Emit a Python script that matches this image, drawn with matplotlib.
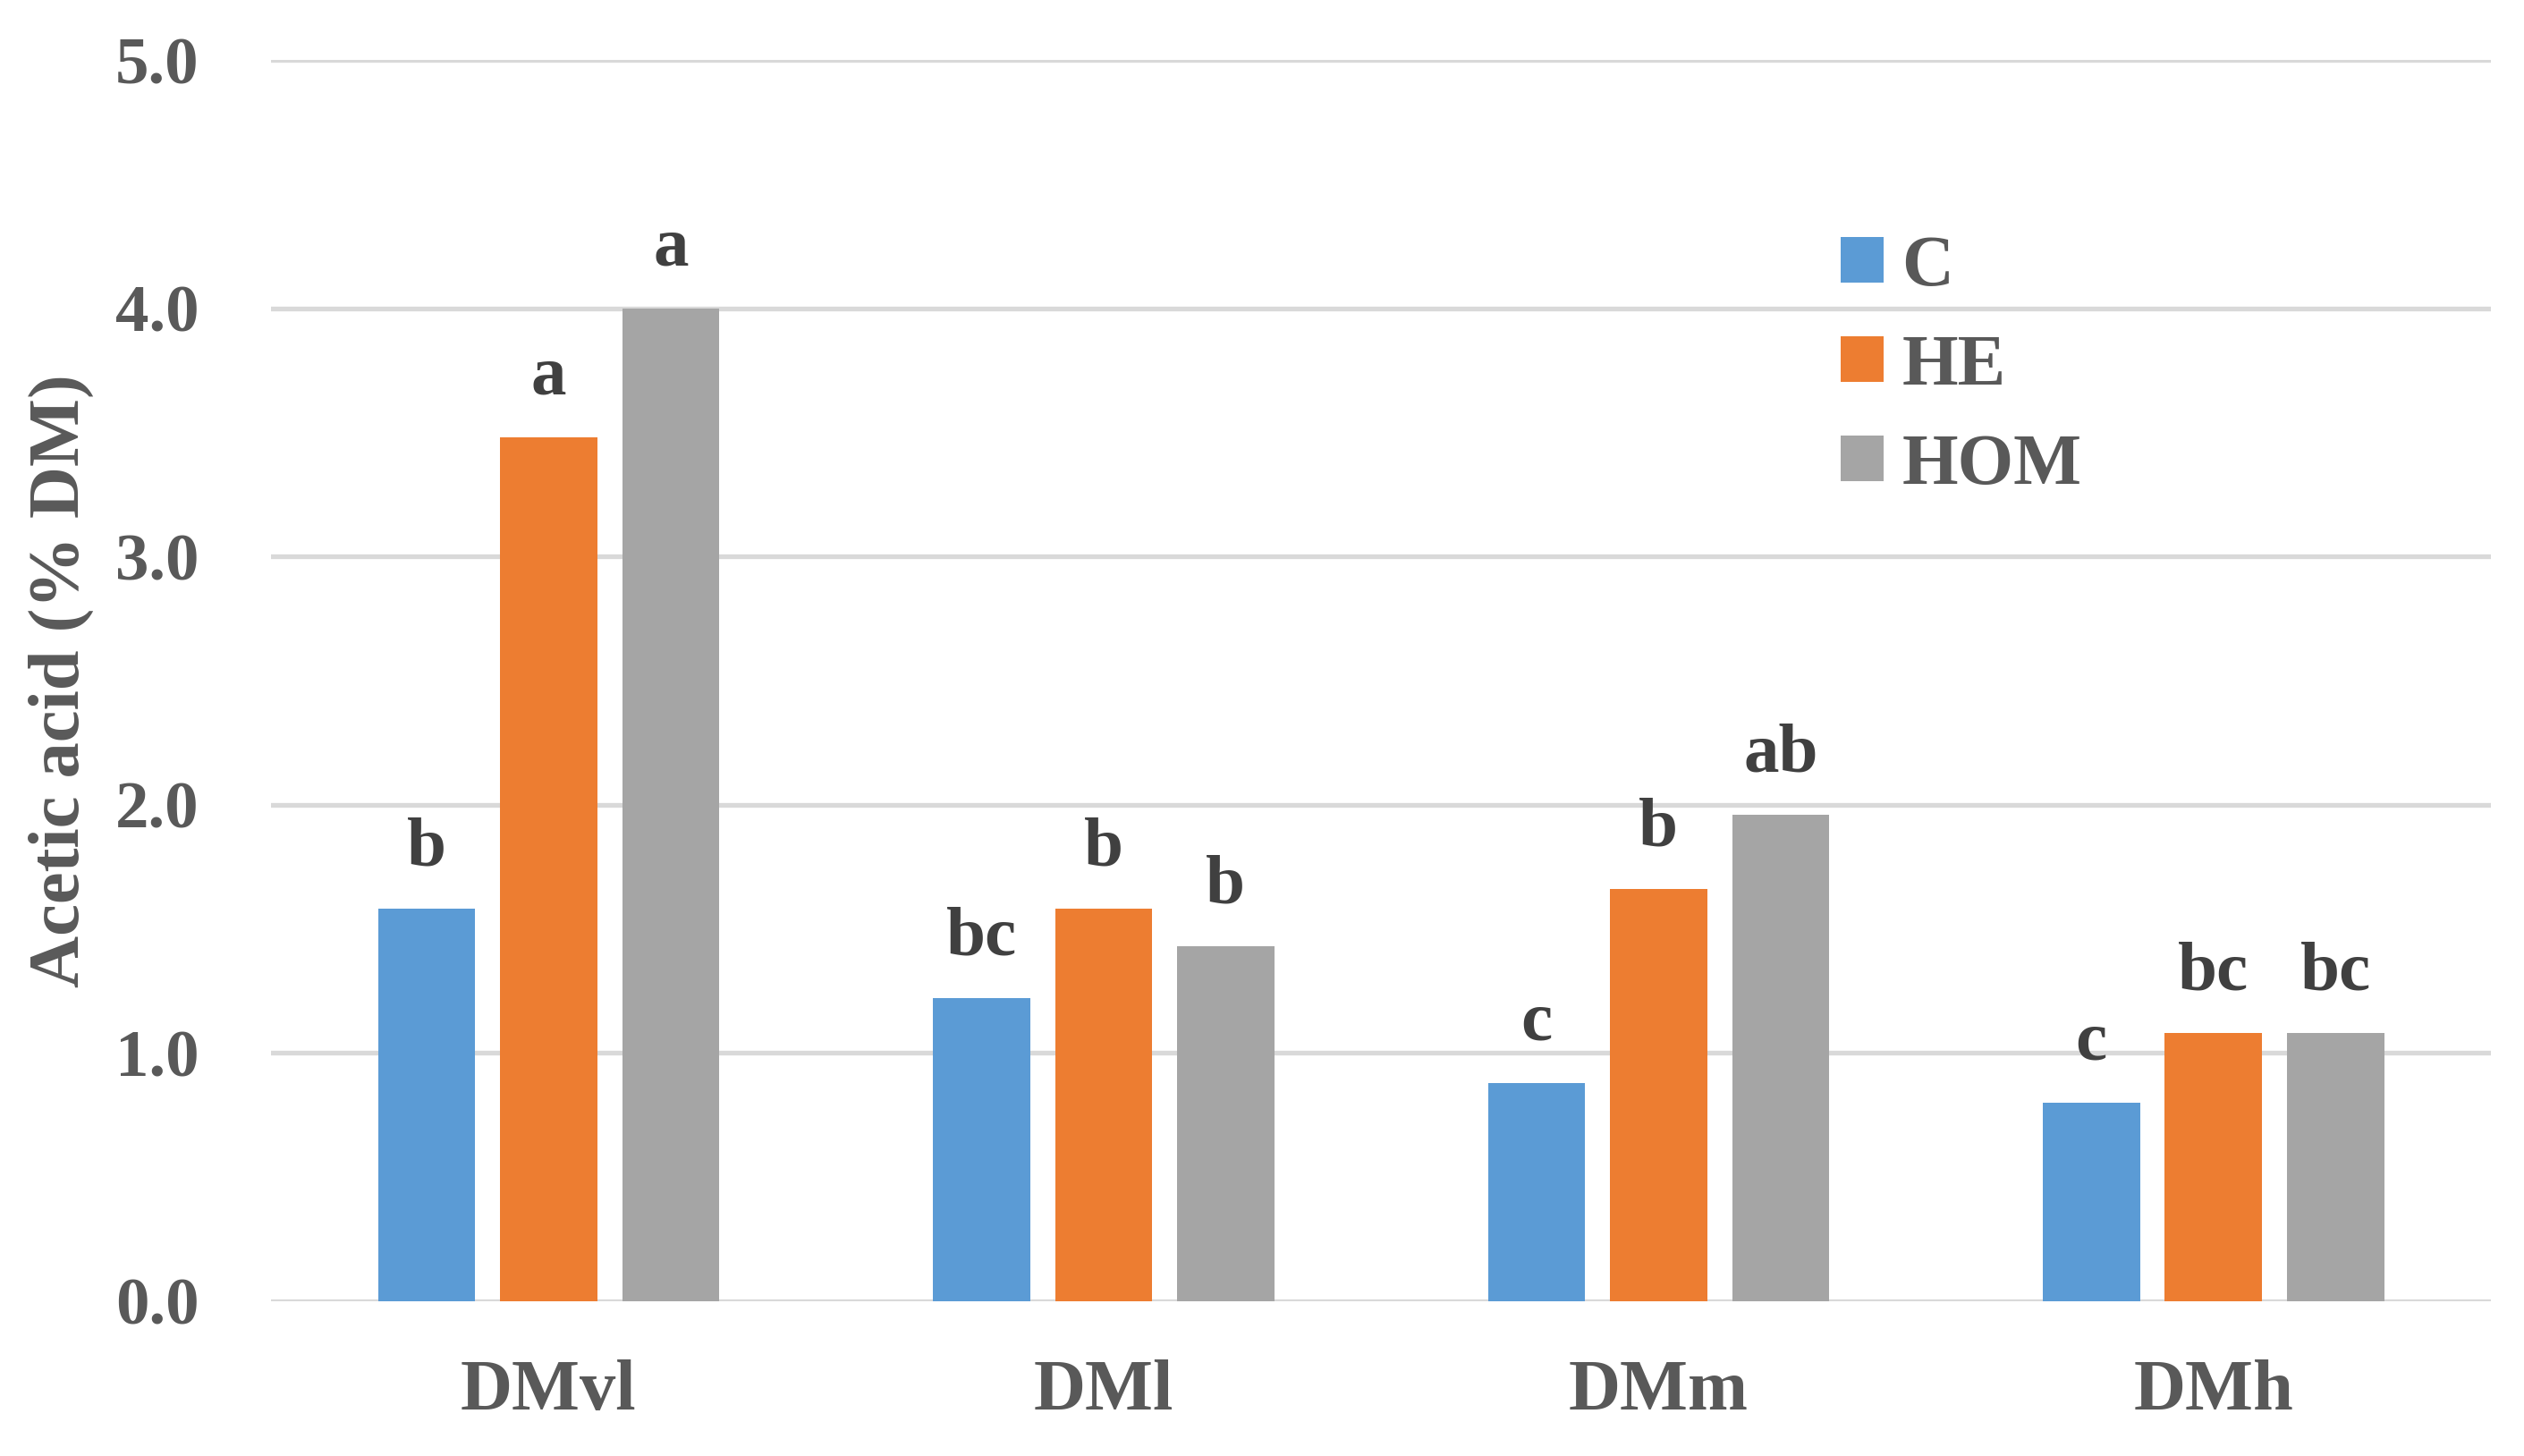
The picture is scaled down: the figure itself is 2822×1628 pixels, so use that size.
import matplotlib
matplotlib.use("Agg")
import matplotlib.pyplot as plt
from matplotlib.patches import Patch
import numpy as np

categories = ["DMvl", "DMl", "DMm", "DMh"]
series_names = ["C", "HE", "HOM"]
C_vals = [1.58, 1.22, 0.88, 0.80]
HE_vals = [3.48, 1.58, 1.66, 1.08]
HOM_vals = [4.00, 1.43, 1.96, 1.08]
C_letters = ["b", "bc", "c", "c"]
HE_letters = ["a", "b", "b", "bc"]
HOM_letters = ["a", "b", "ab", "bc"]
y_ticks = [0.0, 1.0, 2.0, 3.0, 4.0, 5.0]
y_label = "Acetic acid (% DM)"

colors = ["#5B9BD5", "#ED7D31", "#A5A5A5"]
txt = "#595959"
lab = "#404040"
font = ["Liberation Serif", "DejaVu Serif"]
plt.rcParams['font.family'] = font
plt.rcParams['font.weight'] = 'bold'

FS = 57

fig = plt.figure(figsize=(28.22, 16.28), dpi=100)
ax = fig.add_axes([0.1074, 0.1063, 0.8795, 0.8523])

x = np.arange(len(categories))
width = 0.175
step = 0.22
all_vals = [C_vals, HE_vals, HOM_vals]
all_letters = [C_letters, HE_letters, HOM_letters]
for i, (vals, letters) in enumerate(zip(all_vals, all_letters)):
    pos = x + (i - 1) * step
    ax.bar(pos, vals, width, color=colors[i], zorder=3)
    for p, v, l in zip(pos, vals, letters):
        ax.annotate(l, (p, v), xytext=(0, 35), textcoords="offset points",
                    ha="center", va="baseline", fontsize=FS, fontweight="bold", color=lab)

ax.set_xlim(-0.5, 3.5)
ax.set_ylim(0, 5.0)
ax.set_yticks(y_ticks)
ax.set_yticklabels([f"{t:.1f}" for t in y_ticks])
ax.set_xticks(x)
ax.set_xticklabels(categories)
ax.tick_params(axis="y", length=0, pad=58, labelsize=54, labelcolor=txt)
ax.tick_params(axis="x", length=0, pad=47, labelsize=FS + 1, labelcolor=txt)
ax.grid(axis="y", color="#D9D9D9", linewidth=3.8, zorder=0)
for s in ax.spines.values():
    s.set_visible(False)
ax.set_ylabel(y_label, fontsize=FS + 1, color=txt, fontweight="bold")
ax.yaxis.set_label_coords(-0.080, 0.5)

handles = [Patch(facecolor=c, label=n) for c, n in zip(colors, series_names)]
leg = ax.legend(handles=handles, loc="upper left", bbox_to_anchor=(0.707, 0.859),
                frameon=False, fontsize=FS + 1, handlelength=0.6, handleheight=0.6,
                handletextpad=0.25, labelspacing=0.47, borderpad=0, borderaxespad=0,
                labelcolor=txt)

fig.savefig("out.png", dpi=100)
